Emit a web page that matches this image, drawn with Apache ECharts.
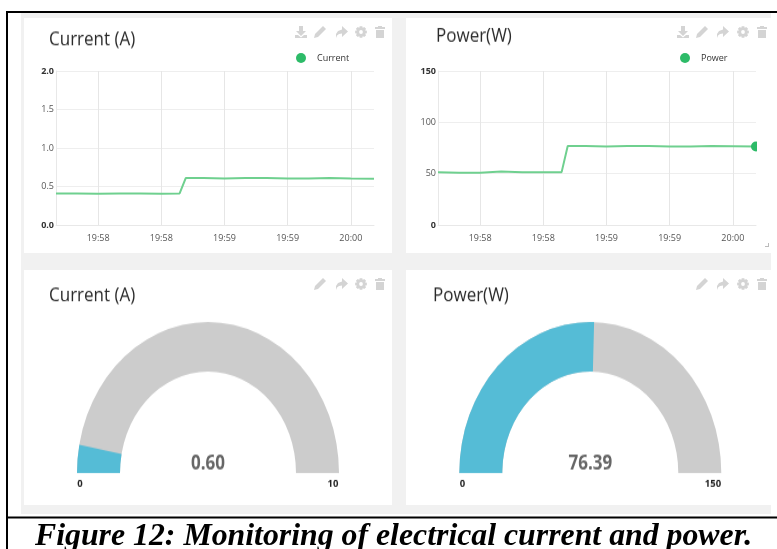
<!DOCTYPE html>
<html>
<head>
<meta charset="utf-8">
<script src="https://cdn.jsdelivr.net/npm/echarts@6/dist/echarts.min.js"></script>
<style>
html,body{margin:0;padding:0;background:#fff;width:777px;height:549px;overflow:hidden;position:relative}
#main,#gauges{position:absolute;left:0;top:0;width:777px;height:549px}
#gauges{transform-origin:0 473px;transform:scaleY(1.153);pointer-events:none}
</style>
</head>
<body>
<div id="main"></div>
<div id="gauges"></div>
<script>
var sampleTimes = ['19:57:30','19:57:40','19:57:50','19:58:00','19:58:10','19:58:20','19:58:28.7','19:58:31.6','19:58:40','19:58:50','19:59:00','19:59:10','19:59:20','19:59:30','19:59:40','19:59:50','20:00:01'];
var currentValues = [0.41,0.41,0.405,0.41,0.41,0.405,0.41,0.61,0.61,0.605,0.61,0.61,0.605,0.605,0.61,0.605,0.60];
var powerValues = [51.5,51,51,52,51.5,51.5,51.5,77,77,76.5,77,77,76.5,76.5,77,76.8,76.39];
var tickTimes = ['19:57:50','19:58:20','19:58:50','19:59:20','19:59:50'];
var tickLabels = ['19:58','19:58','19:59','19:59','20:00'];
var currentTitle = 'Current (A)';
var powerTitle = 'Power(W)';
var currentGauge = {value:0.60, min:0, max:10, text:'0.60'};
var powerGauge = {value:76.39, min:0, max:150, text:'76.39'};
var caption = 'Figure 12: Monitoring of electrical current and power.';

var FONT = '"Open Sans", sans-serif';
function stamp(t){ var p=t.split(':'); return (+p[0])*3600+(+p[1])*60+(+p[2]); }
var tickValues = tickTimes.map(stamp);
var axisStart = stamp('19:57:30'), axisEnd = stamp('20:00:01');
function pairs(vals){ return vals.map(function(v,i){ return [stamp(sampleTimes[i]), v]; }); }

function xAxis(gridIndex){
  return {
    type:'value', gridIndex:gridIndex, min:axisStart, max:axisEnd, scale:true,
    axisLine:{show:true,onZero:false,lineStyle:{color:'#e8e8e8',width:1}},
    axisTick:{show:false,customValues:tickValues},
    splitLine:{show:true,lineStyle:{color:'#e6e6e6',width:1}},
    axisLabel:{
      customValues:tickValues, fontFamily:FONT, fontSize:9, color:'#555', margin:9,
      formatter:function(v){ var i=tickValues.indexOf(+v); return i>=0?tickLabels[i]:''; }
    }
  };
}
function yAxis(gridIndex,max,interval,dec){
  return {
    type:'value', gridIndex:gridIndex, min:0, max:max, interval:interval,
    axisLine:{show:true,onZero:false,lineStyle:{color:'#e8e8e8',width:1}},
    axisTick:{show:false},
    splitLine:{show:true,lineStyle:{color:'#eeeeee',width:1}},
    axisLabel:{
      fontFamily:FONT, fontSize:9, color:'#555', margin:2,
      formatter:function(v){ var s=v.toFixed(dec); return (v===0||v===max)?'{b|'+s+'}':s; },
      rich:{b:{fontFamily:FONT,fontSize:9,fontWeight:'bold',color:'#333'}}
    }
  };
}
function lineSeries(name,vals,axis,dot){
  var last=vals.length-1;
  return {
    name:name,type:'line',xAxisIndex:axis,yAxisIndex:axis,data:pairs(vals),
    showSymbol:dot, showAllSymbol:true, animation:false, smooth:false,
    symbol:function(v,p){ return dot&&p.dataIndex===last?'circle':'none'; },
    symbolSize:10,
    lineStyle:{color:'#6FD08F',width:2},
    itemStyle:{color:'#2DBB68'}
  };
}
function panel(x,y,w,h){ return {type:'rect',z:-9,silent:true,shape:{x:x,y:y,width:w,height:h},style:{fill:'#fff'}}; }

function gearPoints(){
  var pts=[];
  for(var i=0;i<8;i++){
    var a=i*Math.PI/4;
    [[-0.42,4.3],[-0.22,6],[0.22,6],[0.42,4.3]].forEach(function(p){
      pts.push([6+p[1]*Math.sin(a+p[0]),6-p[1]*Math.cos(a+p[0])]);
    });
  }
  return pts;
}
var ICON = {
  download:[[[4,0],[8,0],[8,5],[11,5],[6,10],[1,5],[4,5]],[[0,9],[3,9],[6,11.5],[9,9],[12,9],[12,12],[0,12]]],
  pencil:[[[9,0],[12,3],[4,11],[0,12],[1,8]]],
  share:[[[7,0],[13,5.5],[7,11],[7,7.5],[4,8],[2,9.5],[1,12],[1,8],[3,5],[7,3.5]]],
  gear:[gearPoints()],
  trash:[[[4,0],[8,0],[8,1],[11,1],[11,3],[1,3],[1,1],[4,1]],[[2,4],[10,4],[10,12],[2,12]]]
};
function icon(name,cx,cy){
  var list=ICON[name].map(function(poly){
    return {type:'polygon',z:5,silent:true,x:cx-6,y:cy-6,shape:{points:poly},style:{fill:'#d4d4d4'}};
  });
  if(name==='gear') list.push({type:'circle',z:6,silent:true,shape:{cx:cx,cy:cy,r:1.9},style:{fill:'#fff'}});
  return list;
}
function iconRow(xs,y,names){ var out=[]; names.forEach(function(n,i){ out=out.concat(icon(n,xs[i],y)); }); return out; }
var five=['download','pencil','share','gear','trash'], four=['pencil','share','gear','trash'];

var graphics=[
  {type:'rect',z:-10,silent:true,shape:{x:21,y:13,width:750,height:501},style:{fill:'#f1f1f1'}},
  panel(24,18,368,235),panel(406,18,365,235),panel(24,270,368,235),panel(406,270,365,235),
  {type:'rect',z:20,silent:true,shape:{x:757,y:135,width:8,height:20},style:{fill:'#fff'}},
  {type:'line',z:5,silent:true,shape:{x1:768.5,y1:243,x2:768.5,y2:247},style:{stroke:'#bbb',lineWidth:1}},
  {type:'line',z:5,silent:true,shape:{x1:765,y1:246.5,x2:769,y2:246.5},style:{stroke:'#bbb',lineWidth:1}},
  {type:'line',z:30,silent:true,shape:{x1:6,y1:12,x2:777,y2:12},style:{stroke:'#000',lineWidth:2}},
  {type:'line',z:30,silent:true,shape:{x1:7,y1:11,x2:7,y2:549},style:{stroke:'#000',lineWidth:2}},
  {type:'line',z:30,silent:true,shape:{x1:7,y1:517.5,x2:777,y2:517.5},style:{stroke:'#000',lineWidth:2}},
  {type:'text',z:30,silent:true,x:35,y:537,style:{text:caption,fill:'#000',font:'italic bold 31.8px "Liberation Serif", serif',textVerticalAlign:'middle',verticalAlign:'middle'}}
].concat(
  iconRow([301,320,341,361,380],32,five),
  iconRow([683,702,722,743,762],32,five),
  iconRow([320,341,361,380],284,four),
  iconRow([702,722,743,762],284,four)
);

var main=echarts.init(document.getElementById('main'),null,{renderer:'canvas'});
main.setOption({
  animation:false,
  backgroundColor:'#fff',
  legend:[
    {data:['Current'],left:296,top:53,padding:0,icon:'circle',itemWidth:10,itemHeight:10,selectedMode:false,textStyle:{fontFamily:FONT,fontSize:9,color:'#333',padding:[0,0,0,6]}},
    {data:['Power'],left:680,top:53,padding:0,icon:'circle',itemWidth:10,itemHeight:10,selectedMode:false,textStyle:{fontFamily:FONT,fontSize:9,color:'#333',padding:[0,0,0,6]}}
  ],
  grid:[
    {left:56,top:71,width:318,height:154},
    {left:438,top:71,width:318,height:154}
  ],
  xAxis:[xAxis(0),xAxis(1)],
  yAxis:[yAxis(0,2,0.5,1),yAxis(1,150,50,0)],
  series:[lineSeries('Current',currentValues,0,false),lineSeries('Power',powerValues,1,true)],
  graphic:{elements:graphics}
});

function gaugeSeries(g,cx){
  return {
    type:'gauge',center:[cx,473],radius:131,startAngle:180,endAngle:0,min:g.min,max:g.max,splitNumber:1,
    animation:false,silent:true,
    axisLine:{roundCap:false,lineStyle:{width:43,color:[[1,'#cccccc']]}},
    progress:{show:true,width:43,roundCap:false,overlap:false,itemStyle:{color:'#55bcd6'}},
    pointer:{show:false},anchor:{show:false},axisTick:{show:false},splitLine:{show:false},axisLabel:{show:false},
    title:{show:false},
    detail:{show:true,valueAnimation:false,offsetCenter:[0,-8],fontFamily:FONT,fontSize:17,fontWeight:'bold',color:'#666',
      formatter:function(){return g.text;}},
    data:[{value:g.value}]
  };
}
function endLabel(text,x){
  return {type:'text',silent:true,x:x,y:482.5,style:{text:String(text),fill:'#222',font:'bold 9.5px "Open Sans", sans-serif',textAlign:'center',textVerticalAlign:'middle',verticalAlign:'middle'}};
}
var titleStyle={fontFamily:FONT,fontSize:17,fontWeight:'normal',color:'#2a2a2a'};
var gauges=echarts.init(document.getElementById('gauges'),null,{renderer:'canvas'});
gauges.setOption({
  animation:false,
  backgroundColor:'transparent',
  title:[
    {text:currentTitle,left:49,top:89,padding:0,textStyle:titleStyle},
    {text:powerTitle,left:436,top:86,padding:0,textStyle:titleStyle},
    {text:currentTitle,left:49,top:311,padding:0,textStyle:titleStyle},
    {text:powerTitle,left:433,top:311,padding:0,textStyle:titleStyle}
  ],
  series:[gaugeSeries(currentGauge,208),gaugeSeries(powerGauge,590.3)],
  graphic:{elements:[
    endLabel(currentGauge.min,80),endLabel(currentGauge.max,333),
    endLabel(powerGauge.min,462.5),endLabel(powerGauge.max,713)
  ]}
});
</script>
</body>
</html>
